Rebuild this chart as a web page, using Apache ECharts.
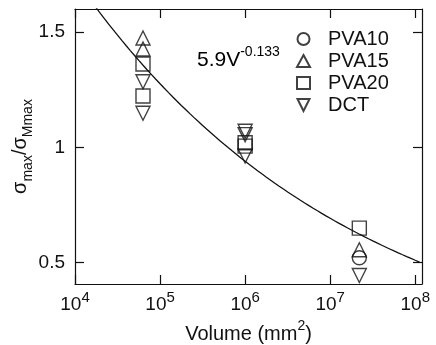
<!DOCTYPE html>
<html>
<head>
<meta charset="utf-8">
<script src="https://cdn.jsdelivr.net/npm/echarts@6/dist/echarts.min.js"></script>
<style>
  html, body { margin: 0; padding: 0; background: #fff; }
  #chart { width: 436px; height: 345px; }
</style>
</head>
<body>
<div id="chart"></div>
<script>
// Normalised peak stress vs. specimen volume, one [volume, ratio] list per material
const pva10 = [[2.2e7, 0.52]];
const pva15 = [[6.3e4, 1.475], [6.3e4, 1.427], [2.2e7, 0.555]];
const pva20 = [[6.3e4, 1.362], [6.3e4, 1.223], [1.0e6, 1.02], [1.0e6, 1.005], [2.2e7, 0.649]];
const dct   = [[6.3e4, 1.285], [6.3e4, 1.148], [1.0e6, 1.07], [1.0e6, 1.055], [1.0e6, 0.962], [2.2e7, 0.443]];

// Power-law fit: ratio = fitCoef * V^fitExp
const fitCoef = 5.9;
const fitExp = -0.133;

// Axis ranges and tick positions
const xMin = 1e4, xMax = 1.2e8;
const yMin = 0.406, yMax = 1.601;
const xTicks = [1e4, 1e5, 1e6, 1e7, 1e8];
const yTicks = [0.5, 1, 1.5];
const yTickLabels = ['0.5', '1', '1.5'];

// Fit curve evaluated at 20 points per decade across the axis range
const fitLine = [];
for (let e = 4; e <= 8.08 + 1e-9; e += 0.05) {
  const v = Math.pow(10, e);
  fitLine.push([v, fitCoef * Math.pow(v, fitExp)]);
}

const FONT = '"Liberation Sans", Arial, Helvetica, sans-serif';
const INK = '#111';
const downTri = 'path://M0,0 L10,0 L5,10 Z';

const chart = echarts.init(document.getElementById('chart'), null, { renderer: 'canvas' });

function scatter(name, data, symbol) {
  return {
    name, type: 'scatter', data, symbol, symbolSize: 14,
    itemStyle: { color: 'transparent', borderColor: INK, borderWidth: 1.4 },
    emphasis: { disabled: true },
    z: 3
  };
}

const tickStyle = { lineStyle: { color: INK, width: 1.2 } };
const supRich = (size, supSize) => ({
  a: { fontFamily: FONT, fontSize: size, color: INK, lineHeight: size + 5, verticalAlign: 'bottom' },
  s: { fontFamily: FONT, fontSize: supSize, color: INK, lineHeight: supSize, verticalAlign: 'top' }
});

chart.setOption({
  animation: false,
  backgroundColor: '#fff',
  grid: { left: 75, top: 9, width: 347, height: 275, outerBoundsMode: 'none', containLabel: false },
  legend: {
    orient: 'vertical',
    left: 291, top: 24,
    itemWidth: 13, itemHeight: 12, itemGap: 2,
    textStyle: { fontFamily: FONT, fontSize: 20, color: INK, padding: [0, 0, 0, 13] },
    data: ['PVA10', 'PVA15', 'PVA20', 'DCT']
  },
  graphic: [{
    type: 'text', left: 197, top: 45,
    style: { text: '{a|5.9V}{s|-0.133}', rich: supRich(21, 14) }
  }],
  xAxis: [{
    type: 'log', logBase: 10, min: xMin, max: xMax,
    name: '{a|Volume (mm}{s|2}{a|)}',
    nameLocation: 'middle', nameGap: 35,
    nameTextStyle: { rich: supRich(20, 14) },
    axisLine: { show: true, onZero: false, lineStyle: { color: INK, width: 1.2 } },
    axisTick: Object.assign({ inside: true, length: 9, customValues: xTicks }, tickStyle),
    minorTick: { show: false },
    splitLine: { show: false },
    axisLabel: {
      customValues: xTicks, margin: 6,
      formatter: v => '{a|10}{s|' + Math.round(Math.log10(v)) + '}',
      rich: supRich(19, 15)
    }
  }, {
    type: 'log', logBase: 10, min: xMin, max: xMax, position: 'top',
    axisLine: { show: true, onZero: false, lineStyle: { color: INK, width: 1.2 } },
    axisTick: Object.assign({ inside: true, length: 9, customValues: xTicks }, tickStyle),
    axisLabel: { show: false },
    splitLine: { show: false }
  }],
  yAxis: [{
    type: 'value', min: yMin, max: yMax,
    name: '{a|σ}{s|max}{a|/σ}{s|Mmax}',
    nameLocation: 'middle', nameGap: 40, nameRotate: 90, nameMoveOverlap: false,
    nameTextStyle: {
      rich: {
        a: { fontFamily: FONT, fontSize: 20, color: INK, lineHeight: 25, verticalAlign: 'top' },
        s: { fontFamily: FONT, fontSize: 14, color: INK, lineHeight: 14, verticalAlign: 'bottom' }
      }
    },
    axisLine: { show: true, onZero: false, lineStyle: { color: INK, width: 1.2 } },
    axisTick: Object.assign({ inside: true, length: 9, customValues: yTicks }, tickStyle),
    splitLine: { show: false },
    axisLabel: {
      customValues: yTicks, margin: 10,
      formatter: v => yTickLabels[yTicks.indexOf(v)],
      fontFamily: FONT, fontSize: 19, color: INK
    }
  }, {
    type: 'value', min: yMin, max: yMax, position: 'right',
    axisLine: { show: true, onZero: false, lineStyle: { color: INK, width: 1.2 } },
    axisTick: Object.assign({ inside: true, length: 9, customValues: yTicks }, tickStyle),
    axisLabel: { show: false },
    splitLine: { show: false }
  }],
  series: [
    scatter('PVA10', pva10, 'circle'),
    scatter('PVA15', pva15, 'triangle'),
    scatter('PVA20', pva20, 'rect'),
    scatter('DCT', dct, downTri),
    {
      name: 'fit', type: 'line', data: fitLine, showSymbol: false, symbol: 'none',
      lineStyle: { color: INK, width: 1.3 }, clip: true, z: 2,
      emphasis: { disabled: true }
    }
  ]
});
</script>
</body>
</html>
